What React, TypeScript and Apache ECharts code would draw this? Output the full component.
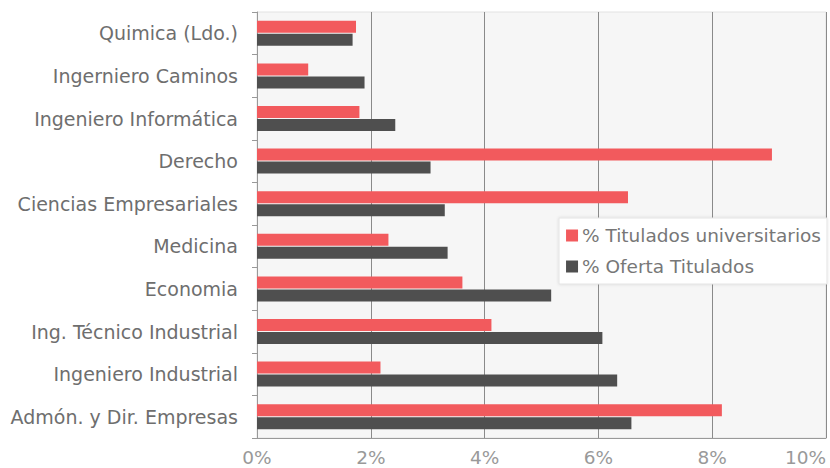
import React, { useEffect, useRef } from "react";
import * as echarts from "echarts";

const categories = [
  "Admón. y Dir. Empresas",
  "Ingeniero Industrial",
  "Ing. Técnico Industrial",
  "Economia",
  "Medicina",
  "Ciencias Empresariales",
  "Derecho",
  "Ingeniero Informática",
  "Ingerniero Caminos",
  "Quimica (Ldo.)",
];
const tituladosName = "% Titulados universitarios";
const ofertaName = "% Oferta Titulados";
const titulados = [8.17, 2.17, 4.12, 3.61, 2.31, 6.52, 9.05, 1.8, 0.9, 1.74];
const oferta = [6.58, 6.33, 6.07, 5.17, 3.35, 3.3, 3.05, 2.43, 1.89, 1.68];

export default function App() {
  const ref = useRef<HTMLDivElement>(null);
  useEffect(() => {
    if (!ref.current) return;
    const chart = echarts.init(ref.current, undefined, { renderer: "svg" });
    const font = "DejaVu Sans, Verdana, sans-serif";
    chart.setOption({
      animation: false,
      grid: { left: 257, right: 4, top: 12, bottom: 30, containLabel: false, show: true, backgroundColor: "#f6f6f6", borderColor: "#e2e2e2", borderWidth: 1 },
      legend: {
        data: [tituladosName, ofertaName],
        orient: "vertical",
        right: 3,
        top: 218,
        backgroundColor: "#ffffff",
        borderColor: "#e4e4e4",
        borderWidth: 1,
        shadowColor: "rgba(0,0,0,0.12)",
        shadowBlur: 3,
        padding: [8, 6, 8, 7],
        itemGap: 12,
        itemWidth: 12,
        itemHeight: 12,
        icon: "rect",
        textStyle: { fontFamily: font, fontSize: 18.5, color: "#777", padding: [0, 0, 0, -1] },
      },
      xAxis: {
        type: "value",
        min: 0,
        max: 10,
        interval: 2,
        axisLine: { show: true, lineStyle: { color: "#999", width: 1 } },
        axisTick: { show: false },
        splitLine: { show: true, lineStyle: { color: "#8a8a8a", width: 1 } },
        axisLabel: {
          formatter: "{value}%",
          fontFamily: font,
          fontSize: 18.5,
          color: "#999",
          margin: 10,
          alignMaxLabel: "right",
        },
      },
      yAxis: {
        type: "category",
        data: categories,
        axisLine: { show: true, lineStyle: { color: "#999", width: 1 } },
        axisTick: { show: true, length: 5, lineStyle: { color: "#999" } },
        axisLabel: { fontFamily: font, fontSize: 19, color: "#6e6e6e", margin: 19 },
      },
      series: [
        {
          name: tituladosName,
          type: "bar",
          data: titulados,
          barWidth: 12,
          barGap: "8%",
          itemStyle: { color: "#f25a5d" },
        },
        {
          name: ofertaName,
          type: "bar",
          data: oferta,
          barWidth: 12,
          barGap: "8%",
          itemStyle: { color: "#4f4f4f" },
        },
      ],
    });
    return () => chart.dispose();
  }, []);
  return <div ref={ref} style={{ width: 830, height: 468, position: "absolute", left: 0, top: 0, background: "#fff" }} />;
}
